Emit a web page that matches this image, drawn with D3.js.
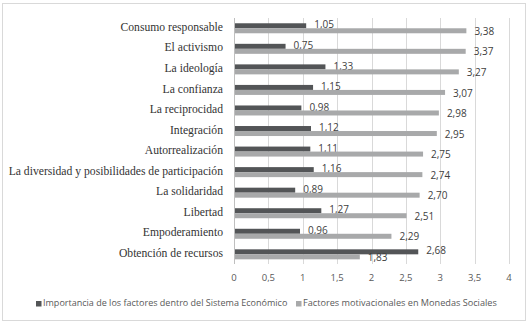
<!DOCTYPE html>
<html><head><meta charset="utf-8">
<script src="https://cdn.jsdelivr.net/npm/d3@7/dist/d3.min.js"></script>
<style>body{margin:0;background:#fff}svg{display:block}</style>
</head><body>
<svg id="c" width="530" height="326"></svg>
<script>
const categories = ["Consumo responsable","El activismo","La ideología","La confianza","La reciprocidad","Integración","Autorrealización","La diversidad y posibilidades de participación","La solidaridad","Libertad","Empoderamiento","Obtención de recursos"];
const economico = [1.05,0.75,1.33,1.15,0.98,1.12,1.11,1.16,0.89,1.27,0.96,2.68];
const motivacionales = [3.38,3.37,3.27,3.07,2.98,2.95,2.75,2.74,2.70,2.51,2.29,1.83];
const ticks = [0,0.5,1,1.5,2,2.5,3,3.5,4];
const seriesNames = ["Importancia de los factores dentro del Sistema Económico","Factores motivacionales en Monedas Sociales"];
const colors = ["#535557","#a8a9aa"];

const svg = d3.select("#c");
const fmt = v => String(v).replace(".", ",");
const fmt2 = v => v.toFixed(2).replace(".", ",");

svg.append("rect").attr("x",2.5).attr("y",3.5).attr("width",523).attr("height",317)
  .attr("fill","#fff").attr("stroke","#d9d9d9");

const x = d3.scaleLinear().domain([0,4]).range([234,509]);
const y = d3.scaleBand().domain(categories).range([18,264.6]).padding(0);

// gridlines
svg.append("g").selectAll("line").data(ticks.slice(1)).join("line")
  .attr("x1",d=>Math.round(x(d))+0.5).attr("x2",d=>Math.round(x(d))+0.5)
  .attr("y1",18).attr("y2",264).attr("stroke","#d9d9d9");

// tick labels
svg.append("g").selectAll("text").data(ticks).join("text")
  .attr("x",d=>x(d)).attr("y",278).attr("text-anchor","middle").attr("dominant-baseline","middle")
  .attr("font-family","Open Sans, sans-serif").attr("font-size",9.5).attr("fill","#595959")
  .text(d=>fmt(d));

const bh = 5;
const bars = [economico, motivacionales];
bars.forEach((vals,si)=>{
  svg.append("g").selectAll("rect").data(categories).join("rect")
    .attr("x",x(0)).attr("width",(d,i)=>x(vals[i])-x(0))
    .attr("y",d=>y(d)+y.bandwidth()/2 - (si===0?bh:0)).attr("height",bh)
    .attr("fill",colors[si]);
  svg.append("g").selectAll("text").data(categories).join("text")
    .attr("x",(d,i)=>x(vals[i])+8)
    .attr("y",d=>y(d)+y.bandwidth()/2 + (si===0?-2.5:4))
    .attr("dominant-baseline","middle")
    .attr("font-family","Open Sans, sans-serif").attr("font-size",10).attr("fill","#404040")
    .text((d,i)=>fmt2(vals[i]));
});

// y axis line
svg.append("line").attr("x1",234.5).attr("x2",234.5).attr("y1",18).attr("y2",264).attr("stroke","#bfbfbf");

// category labels
svg.append("g").selectAll("text").data(categories).join("text")
  .attr("x",223).attr("y",d=>y(d)+y.bandwidth()/2)
  .attr("text-anchor","end").attr("dominant-baseline","middle")
  .attr("font-family","Liberation Serif, serif").attr("font-size",11.65).attr("fill","#333")
  .text(d=>d);

// legend
const leg = [{x:36,tx:43,w:245},{x:296,tx:303,w:194}];
leg.forEach((l,i)=>{
  svg.append("rect").attr("x",l.x).attr("y",301).attr("width",5.5).attr("height",5.5).attr("fill",colors[i]);
  const t = svg.append("text").attr("x",l.tx).attr("y",304).attr("dominant-baseline","middle")
    .attr("font-family","Open Sans, sans-serif").attr("font-size",10).attr("fill","#595959")
    .text(seriesNames[i]);
  const w = t.node().getComputedTextLength();
  t.attr("font-size",10*l.w/w);
});
</script>
</body></html>
